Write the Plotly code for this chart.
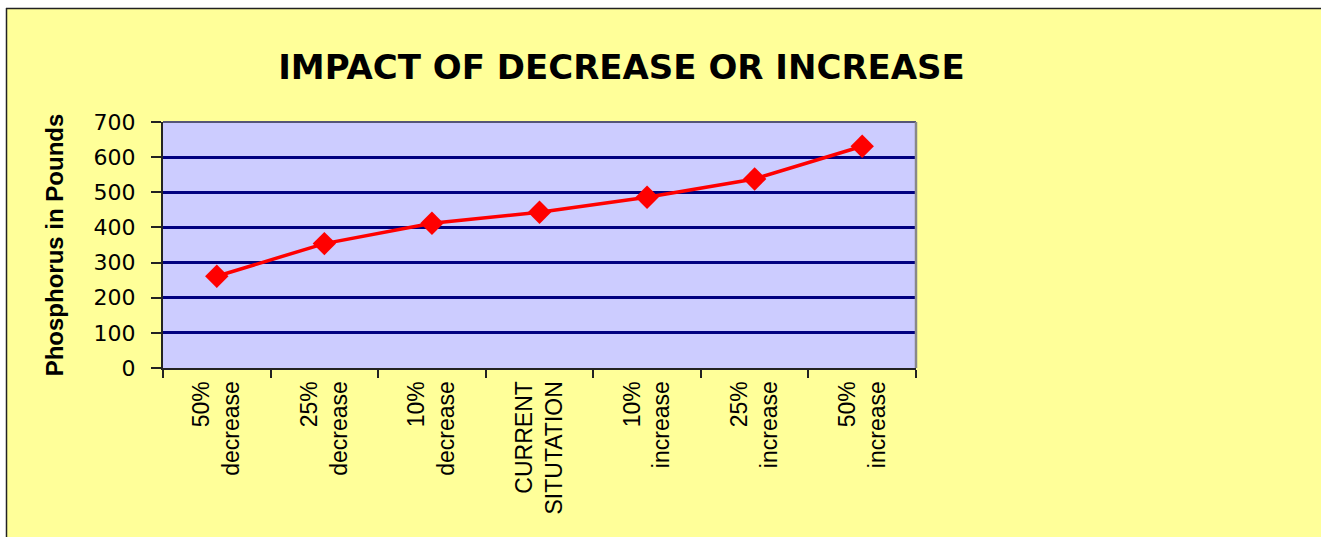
import plotly.graph_objects as go

# ---- data ----
categories = ["50%<br>decrease", "25%<br>decrease", "10%<br>decrease",
              "CURRENT<br>SITUTATION", "10%<br>increase", "25%<br>increase",
              "50%<br>increase"]
phosphorus = [261, 354, 412, 443, 486, 538, 631]
y_tick_values = [0, 100, 200, 300, 400, 500, 600, 700]
title_text = "IMPACT OF DECREASE OR INCREASE"
y_title_text = "Phosphorus in Pounds"

# ---- layout geometry ----
W, H = 1321, 537
L, R, T, B = 163, 405, 122, 169
PW, PH = W - L - R, H - T - B
FONT = "Liberation Sans, Arial, sans-serif"
WIDE = "DejaVu Sans, Liberation Sans, sans-serif"


def px_x(px):
    return (px - L) / PW


def px_y(py):
    return (H - B - py) / PH


fig = go.Figure()
fig.add_trace(go.Scatter(
    x=categories, y=phosphorus, mode="lines+markers",
    line=dict(color="#FF0000", width=3.5),
    marker=dict(symbol="diamond", size=18, color="#FF0000"),
    showlegend=False, hoverinfo="x+y",
))

shapes = [
    # white strip at top and left outside the chart frame
    dict(type="rect", xref="paper", yref="paper", x0=px_x(0), x1=px_x(W),
         y0=px_y(8), y1=px_y(0), fillcolor="white", line=dict(width=0)),
    dict(type="rect", xref="paper", yref="paper", x0=px_x(0), x1=px_x(6),
         y0=px_y(H), y1=px_y(0), fillcolor="white", line=dict(width=0)),
    # chart frame border
    dict(type="line", xref="paper", yref="paper", x0=px_x(6), x1=px_x(W),
         y0=px_y(8.5), y1=px_y(8.5), line=dict(color="#222222", width=1.5)),
    dict(type="line", xref="paper", yref="paper", x0=px_x(6.5), x1=px_x(6.5),
         y0=px_y(H), y1=px_y(8), line=dict(color="#222222", width=1.5)),
    # plot area top / right border
    dict(type="line", xref="paper", yref="paper", x0=0, x1=1, y0=1, y1=1,
         line=dict(color="#555577", width=2)),
    dict(type="line", xref="paper", yref="paper", x0=1, x1=1, y0=0, y1=1,
         line=dict(color="#888888", width=2.5)),
]

fig.update_layout(
    width=W, height=H,
    margin=dict(l=L, r=R, t=T, b=B, autoexpand=False),
    paper_bgcolor="#FFFF99",
    plot_bgcolor="#CCCCFF",
    font=dict(family=FONT, color="black"),
    title=dict(text="<b>" + title_text + "</b>", x=621.5 / W, xref="container",
               xanchor="center", y=1 - 67.5 / H, yref="container", yanchor="middle",
               font=dict(family=WIDE, size=34, color="black")),
    shapes=shapes,
)

fig.update_xaxes(
    type="category", range=[-0.5, 6.5],
    showgrid=False, zeroline=False,
    showline=True, linecolor="#222222", linewidth=2,
    ticks="outside", tickson="boundaries", ticklen=8, tickwidth=1.5, tickcolor="#222222",
    tickangle=-90, tickfont=dict(family=FONT, size=23, color="black"),
    ticklabelstandoff=2,
)
fig.update_yaxes(
    range=[0, 700], tickvals=y_tick_values,
    showgrid=True, gridcolor="#000080", gridwidth=3,
    zeroline=False,
    showline=True, linecolor="#222222", linewidth=2,
    ticks="outside", ticklen=10, tickwidth=1.5, tickcolor="#222222",
    tickfont=dict(family=WIDE, size=22, color="black"),
    ticklabelstandoff=11,
    title=dict(text="<b>" + y_title_text + "</b>", standoff=23,
               font=dict(family=FONT, size=24, color="black")),
)

fig.write_html("out.html")
